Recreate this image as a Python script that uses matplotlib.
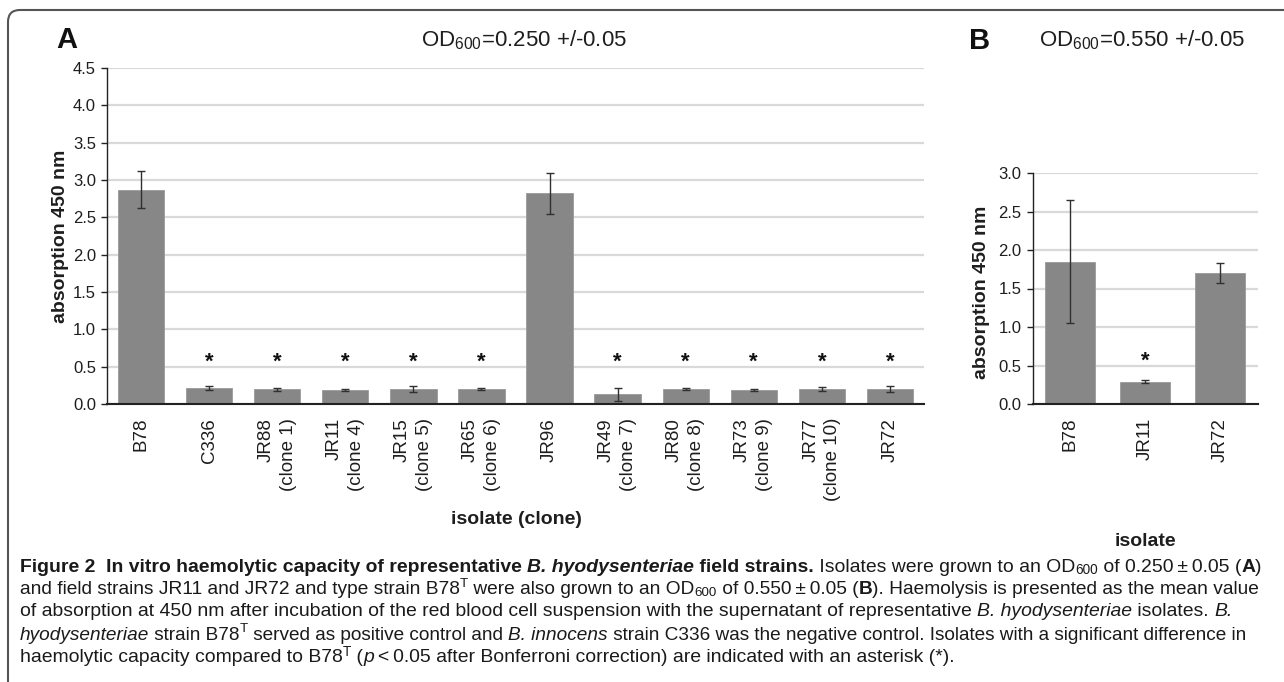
import matplotlib
matplotlib.use("Agg")
import matplotlib.pyplot as plt
from matplotlib.patches import FancyBboxPatch
from matplotlib.transforms import IdentityTransform
from matplotlib import font_manager

# ---------------- data ----------------
cats_a = ["B78", "C336", "JR88\n(clone 1)", "JR11\n(clone 4)", "JR15\n(clone 5)",
          "JR65\n(clone 6)", "JR96", "JR49\n(clone 7)", "JR80\n(clone 8)",
          "JR73\n(clone 9)", "JR77\n(clone 10)", "JR72"]
vals_a = [2.87, 0.21, 0.195, 0.19, 0.205, 0.20, 2.82, 0.13, 0.20, 0.19, 0.20, 0.20]
errs_a = [0.245, 0.025, 0.02, 0.01, 0.04, 0.012, 0.27, 0.09, 0.015, 0.01, 0.03, 0.04]
sig_a = [False, True, True, True, True, True, False, True, True, True, True, True]

cats_b = ["B78", "JR11", "JR72"]
vals_b = [1.85, 0.29, 1.70]
errs_b = [0.80, 0.02, 0.125]
sig_b = [False, True, False]

yticks_a = [0.0, 0.5, 1.0, 1.5, 2.0, 2.5, 3.0, 3.5, 4.0, 4.5]
yticks_b = [0.0, 0.5, 1.0, 1.5, 2.0, 2.5, 3.0]

# ---------------- fonts ----------------
avail = {f.name for f in font_manager.fontManager.ttflist}
SANS = "Liberation Sans" if "Liberation Sans" in avail else "DejaVu Sans"
plt.rcParams["font.family"] = [SANS, "DejaVu Sans"]
plt.rcParams["mathtext.fontset"] = "custom"
plt.rcParams["mathtext.rm"] = SANS
plt.rcParams["mathtext.it"] = SANS + ":italic"
plt.rcParams["mathtext.bf"] = SANS + ":bold"

W, H = 1284, 682
DPI = 100
fig = plt.figure(figsize=(W / DPI, H / DPI), dpi=DPI)

BAR = "#878787"
GRID = "#d9d9d9"
ERR = "#303030"
TXT = "#1e1e1e"


def px_axes(x0, y0top, x1, y1top):
    return fig.add_axes([x0 / W, (H - y1top) / H, (x1 - x0) / W, (y1top - y0top) / H])


def style_axes(ax, yt, ymax):
    ax.set_ylim(0, ymax)
    ax.set_yticks(yt)
    ax.set_yticklabels([f"{v:.1f}" for v in yt], fontsize=12, color=TXT)
    ax.yaxis.grid(True, color=GRID, lw=1.6)
    ax.set_axisbelow(True)
    for s in ["top", "right"]:
        ax.spines[s].set_visible(False)
    ax.spines["left"].set_color("#222222")
    ax.spines["left"].set_linewidth(1.0)
    ax.spines["bottom"].set_color("#222222")
    ax.spines["bottom"].set_linewidth(1.5)
    ax.tick_params(axis="y", direction="out", length=4, width=1, pad=4, color="#222222")
    ax.tick_params(axis="x", length=0, pad=10)


def draw_panel(ax, cats, vals, errs, sig, yt, ymax, width):
    x = list(range(len(cats)))
    ax.bar(x, vals, width=width, color=BAR, edgecolor="#9a9a9a", linewidth=0.6, zorder=2)
    ax.errorbar(x, vals, yerr=errs, fmt="none", ecolor=ERR, elinewidth=1.0,
                capsize=2.6, capthick=1.0, zorder=3)
    for xi, s in zip(x, sig):
        if s:
            ax.text(xi, 0.56, "*", ha="center", va="center", fontsize=16,
                    fontweight="bold", color="#111111")
    ax.set_xlim(-0.5, len(cats) - 0.5)
    style_axes(ax, yt, ymax)
    ax.set_xticks(x)
    ax.set_xticklabels(cats, rotation=90, fontsize=13.5, ha="center", va="top",
                       multialignment="right", linespacing=1.4, color=TXT)
    ax.set_ylabel("absorption 450 nm", fontsize=14, fontweight="bold", color=TXT)


# Panel A
axA = px_axes(107, 68, 924, 404)
draw_panel(axA, cats_a, vals_a, errs_a, sig_a, yticks_a, 4.5, 0.68)
# Panel B
axB = px_axes(1032.5, 173, 1257.5, 404)
draw_panel(axB, cats_b, vals_b, errs_b, sig_b, yticks_b, 3.0, 0.66)

# y label positions in pixels (anchor = right edge of the rotated label)
axA.yaxis.set_label_coords((69 - 107) / (924 - 107), (404 - 236) / (404 - 68))
axB.yaxis.set_label_coords((990 - 1032.5) / 225, (404 - 292) / (404 - 173))


def ftext(xp, yp, s, **kw):
    return fig.text(xp / W, (H - yp) / H, s, **kw)


ftext(516, 519, "isolate (clone)", ha="center", va="center", fontsize=14, fontweight="bold", color=TXT)
ftext(1145, 541, "isolate", ha="center", va="center", fontsize=14, fontweight="bold", color=TXT)

ftext(56, 40, "A", ha="left", va="center", fontsize=21, fontweight="bold", color="#111111")
ftext(969, 41, "B", ha="left", va="center", fontsize=21, fontweight="bold", color="#111111")
ftext(524, 40, r"OD$_{\mathrm{600}}$=0.250 +/-0.05", ha="center", va="center", fontsize=16, color=TXT)
ftext(1142, 40, r"OD$_{\mathrm{600}}$=0.550 +/-0.05", ha="center", va="center", fontsize=16, color=TXT)

# frame
frame = FancyBboxPatch((8, -30), 1320, H - 10 + 30, boxstyle="round,pad=0,rounding_size=12",
                       transform=IdentityTransform(), facecolor="none",
                       edgecolor="#555555", linewidth=1.5, clip_on=False)
fig.patches.append(frame)

# ---------------- caption ----------------
caption_lines = [
    [("Figure 2  In vitro haemolytic capacity of representative ", "b"),
     ("B. hyodysenteriae", "bi"), (" field strains.", "b"),
     (" Isolates were grown to an OD", "n"), ("600", "sub"),
     (" of 0.250\u2009\u00b1\u20090.05 (", "n"), ("A", "b"), (")", "n")],
    [("and field strains JR11 and JR72 and type strain B78", "n"), ("T", "sup"),
     (" were also grown to an OD", "n"), ("600", "sub"),
     (" of 0.550\u2009\u00b1\u20090.05 (", "n"), ("B", "b"),
     ("). Haemolysis is presented as the mean value", "n")],
    [("of absorption at 450 nm after incubation of the red blood cell suspension with the supernatant of representative ", "n"),
     ("B. hyodysenteriae", "i"), (" isolates. ", "n"), ("B.", "i")],
    [("hyodysenteriae", "i"), (" strain B78", "n"), ("T", "sup"),
     (" served as positive control and ", "n"), ("B. innocens", "i"),
     (" strain C336 was the negative control. Isolates with a significant difference in", "n")],
    [("haemolytic capacity compared to B78", "n"), ("T", "sup"), (" (", "n"), ("p", "i"),
     ("\u2009<\u20090.05 after Bonferroni correction) are indicated with an asterisk (*).", "n")],
]
line_ends = [1262, 1262, 1228, 1257, 950]
ys = [567, 590, 612, 635, 658]

CFAM = [SANS, "DejaVu Sans"]


def props(style, size):
    d = dict(family=CFAM, fontsize=size, color="#1a1a1a")
    if style not in ("sub", "sup"):
        if "b" in style:
            d["fontweight"] = "bold"
        if "i" in style:
            d["fontstyle"] = "italic"
    else:
        d["fontsize"] = size * 0.7
    return d


def run_width(s, style, size, renderer):
    t1 = fig.text(0, 0, "|" + s + "|", **props(style, size))
    t2 = fig.text(0, 0, "||", **props(style, size))
    w = t1.get_window_extent(renderer).width - t2.get_window_extent(renderer).width
    t1.remove()
    t2.remove()
    return w


def draw_line(runs, yp, size, renderer):
    xp = 20
    texts = []
    for s, st in runs:
        dy = 0
        if st == "sub":
            dy = 3
        elif st == "sup":
            dy = -6
        t = fig.text(xp / W, (H - (yp + dy)) / H, s, va="center", ha="left", **props(st, size))
        texts.append(t)
        xp += run_width(s, st, size, renderer)
    return texts


for runs, yp, xend in zip(caption_lines, ys, line_ends):
    csize = 12.0
    texts = []
    for _ in range(5):
        fig.canvas.draw()
        renderer = fig.canvas.get_renderer()
        texts = draw_line(runs, yp, csize, renderer)
        fig.canvas.draw()
        renderer = fig.canvas.get_renderer()
        end = max(t.get_window_extent(renderer).x1 for t in texts)
        ratio = (xend - 20) / (end - 20)
        if abs(ratio - 1) < 0.002:
            break
        for t in texts:
            t.remove()
        texts = []
        csize *= ratio
    if not texts:
        fig.canvas.draw()
        texts = draw_line(runs, yp, csize, fig.canvas.get_renderer())

fig.savefig("out.png", dpi=DPI)
